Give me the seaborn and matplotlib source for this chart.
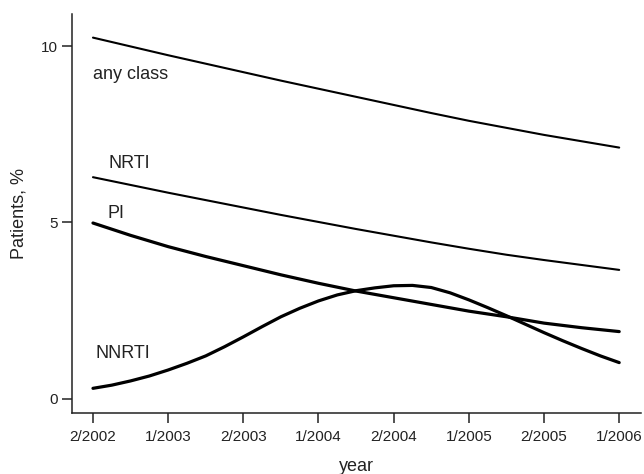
import matplotlib
matplotlib.use("Agg")
import matplotlib.pyplot as plt
import seaborn as sns
import pandas as pd

# x positions: 0 = 2/2002 ... 7 = 1/2006 (survey periods)
tick_labels = ["2/2002", "1/2003", "2/2003", "1/2004", "2/2004", "1/2005", "2/2005", "1/2006"]

x_half = [0, 0.5, 1, 1.5, 2, 2.5, 3, 3.5, 4, 4.5, 5, 5.5, 6, 6.5, 7]
any_class = [10.24, 9.99, 9.74, 9.50, 9.26, 9.02, 8.79, 8.56, 8.33, 8.10, 7.88, 7.68, 7.48, 7.30, 7.12]
nrti = [6.28, 6.06, 5.84, 5.63, 5.42, 5.21, 5.01, 4.81, 4.62, 4.43, 4.25, 4.08, 3.93, 3.79, 3.65]
pi = [4.98, 4.63, 4.31, 4.03, 3.77, 3.51, 3.27, 3.05, 2.86, 2.67, 2.48, 2.32, 2.14, 2.01, 1.90]

x_quarter = [0, 0.25, 0.5, 0.75, 1, 1.25, 1.5, 1.75, 2, 2.25, 2.5, 2.75, 3, 3.25, 3.5,
             3.75, 4, 4.25, 4.5, 4.75, 5, 5.25, 5.5, 5.75, 6, 6.25, 6.5, 6.75, 7]
nnrti = [0.29, 0.38, 0.50, 0.64, 0.81, 1.00, 1.21, 1.47, 1.75, 2.04, 2.32, 2.56, 2.77, 2.94, 3.06,
         3.14, 3.20, 3.21, 3.15, 3.00, 2.80, 2.58, 2.35, 2.11, 1.87, 1.64, 1.42, 1.21, 1.02]

series = [
    ("any class", x_half, any_class, 1.5, (0.0, 9.18)),
    ("NRTI", x_half, nrti, 1.5, (0.2, 6.68)),
    ("PI", x_half, pi, 2.3, (0.19, 5.26)),
    ("NNRTI", x_quarter, nnrti, 2.3, (0.04, 1.29)),
]

sns.set_theme(style="ticks")
plt.rcParams["font.family"] = ["Liberation Sans", "DejaVu Sans"]

fig = plt.figure(figsize=(6.44, 4.74), dpi=100)
ax = fig.add_axes([72 / 644, 61 / 474, 569 / 644, 399 / 474])

for name, xs, ys, lw, (lx, ly) in series:
    df = pd.DataFrame({"x": xs, "y": ys})
    sns.lineplot(data=df, x="x", y="y", ax=ax, color="black", linewidth=lw)
    ax.text(lx, ly, name, fontsize=13, ha="left", va="center", color="#222222")

ax.set_xlim(-0.279, 7.29)
ax.set_ylim(-0.41, 10.91)
ax.set_xticks(range(len(tick_labels)))
ax.set_xticklabels(tick_labels)
ax.set_yticks([0, 5, 10])
ax.set_yticklabels(["0", "5", "10"])

for s in ["top", "right"]:
    ax.spines[s].set_visible(False)
for s in ["left", "bottom"]:
    ax.spines[s].set_linewidth(1.1)
    ax.spines[s].set_color("#222222")

ax.tick_params(axis="both", direction="out", length=7, width=1.1, color="#222222",
               labelsize=11, labelcolor="#222222")
ax.tick_params(axis="x", pad=5)
ax.tick_params(axis="y", pad=3.5)

ax.set_xlabel("year", fontsize=13, color="#222222", labelpad=10)
ax.set_ylabel("Patients, %", fontsize=13, color="#222222", labelpad=9)

fig.savefig("out.png", dpi=100)
